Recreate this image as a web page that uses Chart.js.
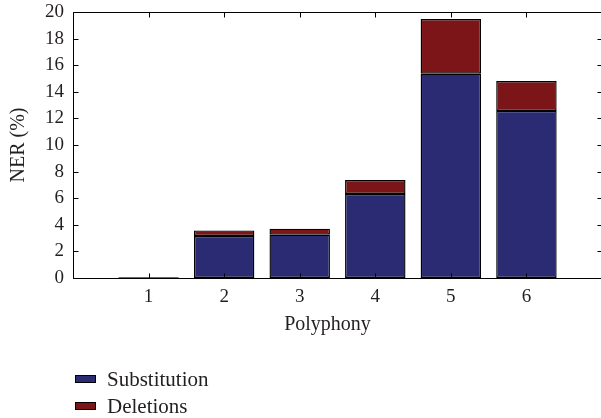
<!DOCTYPE html>
<html>
<head>
<meta charset="utf-8">
<script src="https://cdn.jsdelivr.net/npm/chart.js@4.4.0/dist/chart.umd.min.js"></script>
<style>
  html, body { margin: 0; padding: 0; background: #fff; overflow: hidden; }
  .chart-container { position: relative; width: 606px; height: 418px; }
</style>
</head>
<body>
<div class="chart-container"><canvas id="nerChart"></canvas></div>
<script>
const polyphony = [1, 2, 3, 4, 5, 6];
const substitution = [0.05, 3.16, 3.26, 6.32, 15.36, 12.56];
const deletions = [0.02, 0.42, 0.45, 1.05, 4.11, 2.25];
const seriesLabels = ["Substitution", "Deletions"];
const yTickValues = [0, 2, 4, 6, 8, 10, 12, 14, 16, 18, 20];

const textColor = "#231f20";
const serif = "'Liberation Serif', 'Times New Roman', serif";

// MATLAB-like box with inward ticks on all four sides
const frameTicks = {
  id: "frameTicks",
  afterDatasetsDraw(chart) {
    const { ctx, chartArea: a, scales } = chart;
    const l = Math.round(a.left) + 0.5, r = Math.round(a.right) + 0.5;
    const t = Math.round(a.top) + 0.5, b = Math.round(a.bottom) + 0.5;
    ctx.save();
    ctx.strokeStyle = "#000";
    ctx.lineWidth = 1;
    ctx.beginPath();
    ctx.rect(l, t, r - l, b - t);
    scales.x.ticks.forEach(function (tk) {
      const px = Math.round(scales.x.getPixelForValue(tk.value)) + 0.5;
      ctx.moveTo(px, b); ctx.lineTo(px, b - 5);
      ctx.moveTo(px, t); ctx.lineTo(px, t + 5);
    });
    scales.y.ticks.forEach(function (tk) {
      const py = Math.round(scales.y.getPixelForValue(tk.value)) + 0.5;
      ctx.moveTo(l, py); ctx.lineTo(l + 5, py);
      ctx.moveTo(r, py); ctx.lineTo(r - 5, py);
    });
    ctx.stroke();
    ctx.restore();
  },
};

// vertical legend under the axis title
const stackLegend = {
  id: "stackLegend",
  afterDraw(chart) {
    const ctx = chart.ctx;
    ctx.save();
    ctx.font = "21px " + serif;
    ctx.textBaseline = "middle";
    chart.data.datasets.forEach(function (ds, i) {
      const y = 379 + i * 27;
      ctx.fillStyle = ds.backgroundColor;
      ctx.fillRect(75, y - 4, 21, 8);
      ctx.strokeStyle = "#000";
      ctx.lineWidth = 1;
      ctx.strokeRect(75.5, y - 3.5, 20, 7);
      ctx.fillStyle = textColor;
      ctx.fillText(ds.label, 107, y + 1);
    });
    ctx.restore();
  },
};

function noPadding(s) {
  s.paddingTop = 0;
  s.paddingBottom = 0;
  s.paddingLeft = 0;
  s.paddingRight = 0;
}

document.addEventListener("DOMContentLoaded", function () {
  const ctx = document.getElementById("nerChart").getContext("2d");
  new Chart(ctx, {
    type: "bar",
    data: {
      datasets: [
        {
          label: seriesLabels[0],
          data: polyphony.map((p, i) => ({ x: p, y: substitution[i] })),
          backgroundColor: "#2a2b73",
          borderColor: "#000",
          borderWidth: 1.4,
          borderSkipped: false,
          inflateAmount: 0,
        },
        {
          label: seriesLabels[1],
          data: polyphony.map((p, i) => ({ x: p, y: deletions[i] })),
          backgroundColor: "#7b1517",
          borderColor: "#000",
          borderWidth: 1.4,
          borderSkipped: false,
          inflateAmount: 0,
        },
      ],
    },
    options: {
      responsive: true,
      maintainAspectRatio: false,
      animation: false,
      categoryPercentage: 0.8,
      barPercentage: 1,
      layout: { padding: { top: 12, right: 4, bottom: 78, left: 0 } },
      plugins: {
        legend: { display: false },
        tooltip: { enabled: false },
      },
      scales: {
        x: {
          type: "linear",
          min: 0,
          max: 7,
          offset: false,
          stacked: true,
          grid: { display: false, drawTicks: false },
          border: { display: false },
          ticks: {
            stepSize: 1,
            padding: 8,
            color: textColor,
            font: { family: serif, size: 19 },
            callback: (v) => (polyphony.includes(v) ? String(v) : ""),
          },
          title: {
            display: true,
            text: "Polyphony    ",
            color: textColor,
            font: { family: serif, size: 20 },
            padding: { top: 0, bottom: 3 },
          },
          afterFit(s) { s.height = 62; noPadding(s); },
        },
        y: {
          stacked: true,
          min: 0,
          max: 20,
          grid: { display: false, drawTicks: false },
          border: { display: false },
          afterBuildTicks(s) { s.ticks = yTickValues.map((v) => ({ value: v })); },
          ticks: {
            padding: 9,
            color: textColor,
            font: { family: serif, size: 19 },
          },
          title: {
            display: true,
            text: "NER (%)",
            color: textColor,
            font: { family: serif, size: 20 },
            padding: { top: 7, bottom: 0 },
          },
          afterFit(s) { s.width = 73; noPadding(s); },
        },
      },
    },
    plugins: [frameTicks, stackLegend],
  });
});
</script>
</body>
</html>
